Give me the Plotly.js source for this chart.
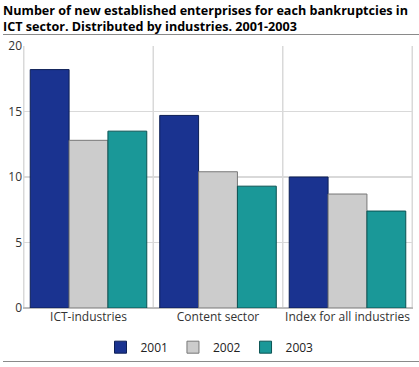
<!DOCTYPE html>
<html><head><meta charset="utf-8">
<script src="https://cdn.plot.ly/plotly-3.0.1.min.js"></script>
<style>body{margin:0;padding:0;background:#fff}#chart{width:419px;height:367px}</style>
</head><body><div id="chart"></div>
<script>
const categories = ["ICT-industries", "Content sector", "Index for all industries"];
const years = ["2001", "2002", "2003"];
const values2001 = [18.2, 14.7, 10.0];
const values2002 = [12.8, 10.4, 8.7];
const values2003 = [13.5, 9.3, 7.4];
const yTicks = [0, 5, 10, 15, 20];
const titleText = "<b>Number of new established enterprises for each bankruptcies in<br>ICT sector. Distributed by industries. 2001-2003</b>";

const fills = ["#1a3390", "#cccccc", "#1a9898"];
const lines = ["#0d1f55", "#777777", "#0b5353"];
const series = [values2001, values2002, values2003];

const traces = series.map((v, i) => ({
  type: "bar", x: categories, y: v, name: years[i],
  marker: {color: fills[i], line: {color: lines[i], width: 1}},
  hoverinfo: "skip"
}));

const shapes = [-0.5, 0.5, 1.5, 2.5].map(p => ({
  type: "line", xref: "x", yref: "paper", x0: p, x1: p, y0: 0, y1: 1,
  line: {color: "#d9d9d9", width: 1.5}, layer: "below"
}));

// separator rules (under title, under legend) drawn as thin annotation boxes
const rule = yPaper => ({text: " ", xref: "paper", yref: "paper", x: 0.5, y: yPaper, xanchor: "center", yanchor: "middle",
  width: 430, height: 1, borderpad: 0, borderwidth: 0, bgcolor: "#8a8a8a", showarrow: false, font: {size: 1}});

const layout = {
  width: 419, height: 367,
  margin: {l: 23, r: 6, t: 46, b: 59, autoexpand: false},
  font: {family: "Open Sans, DejaVu Sans, sans-serif", size: 12, color: "#333"},
  annotations: [
    {text: titleText, xref: "paper", yref: "paper", x: -0.057, y: 1.175, xanchor: "left", yanchor: "top",
      align: "left", showarrow: false, font: {size: 12.6, color: "#000"}},
    rule(1.042), rule(-0.206)
  ],
  barmode: "group", bargap: 0.1, bargroupgap: 0,
  xaxis: {showgrid: false, showline: false, ticks: "", tickfont: {size: 12, color: "#333"}},
  yaxis: {range: [0, 20], tickvals: yTicks, gridcolor: "#d9d9d9", gridwidth: 1.5, zeroline: true,
    zerolinecolor: "#bbbbbb", zerolinewidth: 1.5, ticks: "", tickfont: {size: 12, color: "#333"}, fixedrange: true},
  showlegend: true,
  legend: {orientation: "h", x: 0.5, xanchor: "center", xref: "container", y: 0.054, yanchor: "middle", yref: "container",
    font: {size: 12, color: "#222"}, itemwidth: 30, traceorder: "normal"},
  shapes: shapes,
  paper_bgcolor: "#fff", plot_bgcolor: "#fff"
};

Plotly.newPlot("chart", traces, layout, {displayModeBar: false, staticPlot: true});
</script></body></html>
